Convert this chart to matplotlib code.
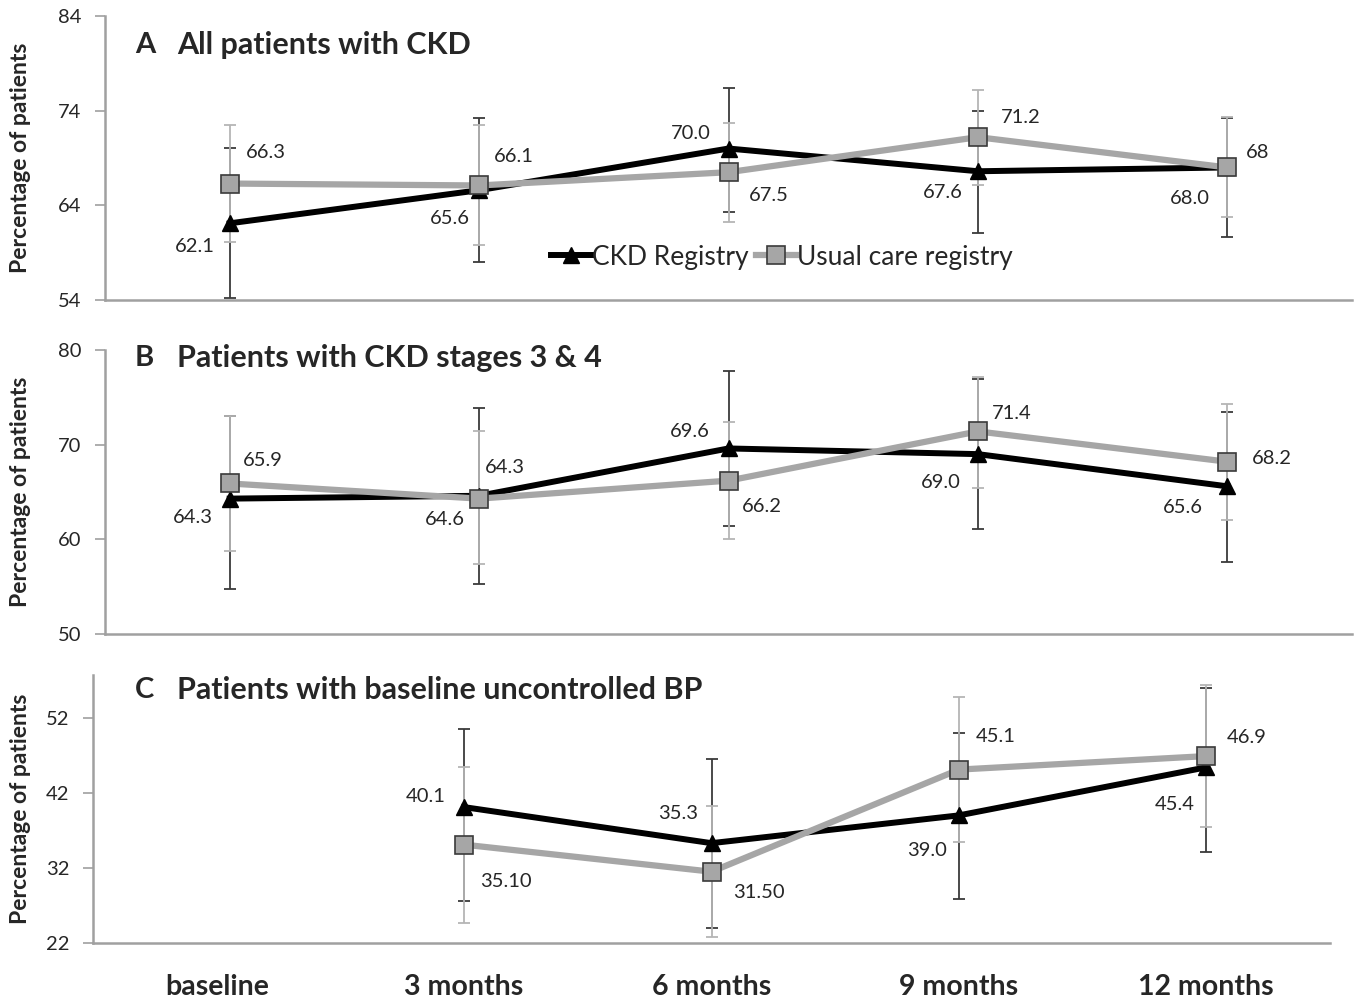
import numpy as np
import matplotlib
matplotlib.use("Agg")
import matplotlib.pyplot as plt
from matplotlib.lines import Line2D

plt.rcParams['font.family'] = ['Lato', 'DejaVu Sans']

W, H = 1359, 998

timepoints = ["baseline", "3 months", "6 months", "9 months", "12 months"]

# Panel A: All patients with CKD
a_ckd = [62.1, 65.6, 70.0, 67.6, 68.0]
a_ckd_lo = [54.2, 58.0, 63.3, 61.1, 60.7]
a_ckd_hi = [70.1, 73.2, 76.4, 74.0, 73.2]
a_uc = [66.3, 66.1, 67.5, 71.2, 68.0]
a_uc_lo = [60.1, 59.8, 62.2, 66.2, 62.8]
a_uc_hi = [72.5, 72.5, 72.7, 76.2, 73.3]
a_ckd_labels = ["62.1", "65.6", "70.0", "67.6", "68.0"]
a_uc_labels = ["66.3", "66.1", "67.5", "71.2", "68"]

# Panel B: Patients with CKD stages 3 & 4
b_ckd = [64.3, 64.6, 69.6, 69.0, 65.6]
b_ckd_lo = [54.8, 55.3, 61.4, 61.1, 57.6]
b_ckd_hi = [73.0, 73.9, 77.8, 76.9, 73.5]
b_uc = [65.9, 64.3, 66.2, 71.4, 68.2]
b_uc_lo = [58.8, 57.4, 60.0, 65.4, 62.0]
b_uc_hi = [73.0, 71.4, 72.4, 77.2, 74.3]
b_ckd_labels = ["64.3", "64.6", "69.6", "69.0", "65.6"]
b_uc_labels = ["65.9", "64.3", "66.2", "71.4", "68.2"]

# Panel C: Patients with baseline uncontrolled BP
c_ckd = [np.nan, 40.1, 35.3, 39.0, 45.4]
c_ckd_lo = [np.nan, 27.6, 24.0, 27.9, 34.1]
c_ckd_hi = [np.nan, 50.5, 46.5, 50.0, 56.0]
c_uc = [np.nan, 35.1, 31.5, 45.1, 46.9]
c_uc_lo = [np.nan, 24.7, 22.8, 35.4, 37.4]
c_uc_hi = [np.nan, 45.4, 40.3, 54.8, 56.4]
c_ckd_labels = ["", "40.1", "35.3", "39.0", "45.4"]
c_uc_labels = ["", "35.10", "31.50", "45.1", "46.9"]

BLACK = "#000000"
GRAY = "#a6a6a6"
AXC = "#a0a0a0"
TXT = "#262626"

fig = plt.figure(figsize=(W / 100, H / 100), dpi=100)


def fbox(l, t, r, b):
    return [l / W, 1 - b / H, (r - l) / W, (b - t) / H]


panels = [
    dict(box=fbox(105, 16, 1352, 300), ylim=(54, 84), yticks=[54, 64, 74, 84],
         ckd=a_ckd, ckd_lo=a_ckd_lo, ckd_hi=a_ckd_hi, uc=a_uc, uc_lo=a_uc_lo, uc_hi=a_uc_hi,
         ckd_lab=a_ckd_labels, uc_lab=a_uc_labels,
         ckd_off=[(-35, 23), (-29, 28), (-38, -15), (-35, 21), (-37, 31)],
         uc_off=[(36, -31), (35, -29), (40, 23), (43, -20), (30, -15)],
         letter="A", title="All patients with CKD", ty=45),
    dict(box=fbox(105, 350, 1352, 634), ylim=(50, 80), yticks=[50, 60, 70, 80],
         ckd=b_ckd, ckd_lo=b_ckd_lo, ckd_hi=b_ckd_hi, uc=b_uc, uc_lo=b_uc_lo, uc_hi=b_uc_hi,
         ckd_lab=b_ckd_labels, uc_lab=b_uc_labels,
         ckd_off=[(-37, 19), (-34, 24), (-39, -17), (-37, 28), (-44, 21)],
         uc_off=[(33, -23), (26, -31), (33, 26), (34, -18), (45, -3)],
         letter="B", title="Patients with CKD stages 3 & 4", ty=358),
    dict(box=fbox(93, 675, 1330, 943), ylim=(22, 57.7), yticks=[22, 32, 42, 52],
         ckd=c_ckd, ckd_lo=c_ckd_lo, ckd_hi=c_ckd_hi, uc=c_uc, uc_lo=c_uc_lo, uc_hi=c_uc_hi,
         ckd_lab=c_ckd_labels, uc_lab=c_uc_labels,
         ckd_off=[(0, 0), (-38, -11), (-33, -30), (-32, 35), (-32, 37)],
         uc_off=[(0, 0), (42, 37), (47, 21), (37, -33), (40, -19)],
         letter="C", title="Patients with baseline uncontrolled BP", ty=690),
]

x = np.arange(len(timepoints))
axes = []
for i, p in enumerate(panels):
    ax = fig.add_axes(p["box"])
    axes.append(ax)
    ckd = np.array(p["ckd"], dtype=float)
    uc = np.array(p["uc"], dtype=float)
    ckd_err = [ckd - np.array(p["ckd_lo"], dtype=float), np.array(p["ckd_hi"], dtype=float) - ckd]
    uc_err = [uc - np.array(p["uc_lo"], dtype=float), np.array(p["uc_hi"], dtype=float) - uc]

    ax.errorbar(x, ckd, yerr=ckd_err, fmt='none', ecolor="#3a3a3a", elinewidth=1.3,
                capsize=4, capthick=1.3, zorder=2)
    ax.errorbar(x, uc, yerr=uc_err, fmt='none', ecolor="#b5b5b5", elinewidth=1.3,
                capsize=4, capthick=1.3, zorder=2.5)
    ax.plot(x, ckd, color=BLACK, lw=4.3, marker='^', ms=12, mfc=BLACK, mec=BLACK,
            zorder=3, solid_joinstyle='round')
    ax.plot(x, uc, color=GRAY, lw=4.5, marker='s', ms=13, mfc=GRAY, mec="#3a3a3a",
            mew=1.2, zorder=4, solid_joinstyle='round')

    for xi, v, lab, off in zip(x, ckd, p["ckd_lab"], p["ckd_off"]):
        if lab:
            ax.annotate(lab, (xi, v), xytext=(off[0], -off[1]), textcoords='offset pixels',
                        ha='center', va='center', fontsize=14.5, color=TXT, zorder=6)
    for xi, v, lab, off in zip(x, uc, p["uc_lab"], p["uc_off"]):
        if lab:
            ax.annotate(lab, (xi, v), xytext=(off[0], -off[1]), textcoords='offset pixels',
                        ha='center', va='center', fontsize=14.5, color=TXT, zorder=6)

    ax.set_xlim(-0.5, 4.5)
    ax.set_ylim(*p["ylim"])
    ax.set_yticks(p["yticks"])
    ax.tick_params(axis='y', direction='out', length=7, width=1.2, color=AXC,
                  labelsize=14.5, labelcolor=TXT, pad=10)
    for s in ("top", "right"):
        ax.spines[s].set_visible(False)
    for s in ("left", "bottom"):
        ax.spines[s].set_color(AXC)
        ax.spines[s].set_linewidth(1.8)
    ax.set_ylabel("Percentage of patients", fontsize=16.5, fontweight='bold', color=TXT)
    if i < 2:
        ax.set_xticks([])
    else:
        ax.set_xticks(x)
        ax.set_xticklabels(timepoints, fontsize=20.5, fontweight='bold', color=TXT)
        ax.tick_params(axis='x', length=0, pad=22)

    fig.text(135 / W, 1 - p["ty"] / H, p["letter"], fontsize=21, fontweight='bold',
             color=TXT, ha='left', va='center')
    fig.text(177 / W, 1 - p["ty"] / H, p["title"], fontsize=22, fontweight='bold',
             color=TXT, ha='left', va='center')

# place y labels (text column spanning roughly x 10-31 px)
for ax, left, width in zip(axes, [105, 105, 93], [1247, 1247, 1237]):
    ax.yaxis.set_label_coords((31 - left) / width, 0.5)

handles = [
    Line2D([], [], color=BLACK, lw=4.3, marker='^', ms=12, mfc=BLACK, mec=BLACK),
    Line2D([], [], color=GRAY, lw=4.5, marker='s', ms=13, mfc=GRAY, mec="#3a3a3a", mew=1.2),
]
fig.legend(handles, ["CKD Registry", "Usual care registry"], loc='center',
           bbox_to_anchor=(782 / W, 1 - 257 / H), ncol=2, frameon=False,
           fontsize=19, handlelength=1.5, handletextpad=0.05, columnspacing=0.3,
           labelcolor=TXT)

fig.savefig("out.png", dpi=100, facecolor='white')
